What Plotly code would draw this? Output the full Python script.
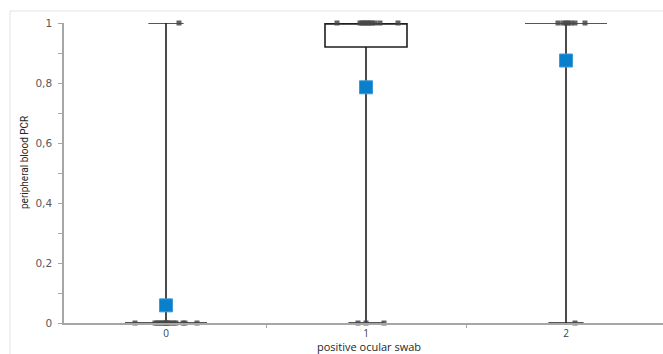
import plotly.graph_objects as go

# ---- data ----
categories = ["0", "1", "2"]
positions = [0, 1, 2]

# box statistics
q1 = [0.0, 0.92, 1.0]
median = [0.0, 1.0, 1.0]
q3 = [0.0, 1.0, 1.0]
lowerfence = [0.0, 0.0, 0.0]
upperfence = [1.0, 1.0, 1.0]

# individual observations per group
values_g0 = [0] * 16 + [1]
values_g1 = [0] * 3 + [1] * 11
values_g2 = [0] * 1 + [1] * 7
groups = [values_g0, values_g1, values_g2]

# horizontal spread of the points (jitter, in category units)
jitter_g0 = [-0.155, -0.055, -0.045, -0.035, -0.025, -0.015, -0.005, 0.0,
             0.005, 0.015, 0.025, 0.04, 0.05, 0.085, 0.095, 0.155, 0.065]
jitter_g1 = [-0.04, 0.0, 0.09,
             -0.145, -0.03, -0.02, -0.01, 0.0, 0.01, 0.02, 0.03, 0.045, 0.07, 0.16]
jitter_g2 = [0.045,
             -0.04, -0.015, 0.0, 0.01, 0.025, 0.045, 0.095]
jitters = [jitter_g0, jitter_g1, jitter_g2]

ytick_vals = [0, 0.2, 0.4, 0.6, 0.8, 1.0]
ytick_text = ["0", "0,2", "0,4", "0,6", "0,8", "1"]

x_title = "positive ocular swab"
y_title = "peripheral blood PCR"

# ---- figure ----
W, H = 663, 354
L, R, T, B = 64, 0, 23, 31

fig = go.Figure()

fig.add_trace(go.Box(
    x=positions, q1=q1, median=median, q3=q3,
    lowerfence=lowerfence, upperfence=upperfence,
    width=0.41, whiskerwidth=0.43,
    fillcolor="rgba(255,255,255,0)",
    line=dict(color="#1f1f1f", width=1.6),
    boxpoints=False, hoverinfo="skip", showlegend=False,
))

px_, py_ = [], []
for p, vals, jit in zip(positions, groups, jitters):
    for v, j in zip(vals, jit):
        px_.append(p + j)
        py_.append(v)

fig.add_trace(go.Scatter(
    x=px_, y=py_, mode="markers",
    marker=dict(symbol="square", size=5, color="rgba(70,70,70,0.85)",
                line=dict(width=0)),
    cliponaxis=False, showlegend=False, hoverinfo="skip",
))

means = [sum(v) / len(v) for v in groups]
fig.add_trace(go.Scatter(
    x=positions, y=means, mode="markers",
    marker=dict(symbol="square", size=13, color="#0a7fcc",
                line=dict(width=1, color="#3d9ad8")),
    cliponaxis=False, showlegend=False, hoverinfo="skip",
))

fig.update_layout(
    width=W, height=H,
    margin=dict(l=L, r=R, t=T, b=B, pad=0),
    paper_bgcolor="white", plot_bgcolor="white",
    separators=",.",
    font=dict(family="DejaVu Sans", size=10, color="#595959"),
    xaxis=dict(
        range=[-0.51, 2.485], showgrid=False, zeroline=False,
        showline=True, linecolor="#a6a6a6", linewidth=1.5,
        tickvals=positions, ticktext=categories,
        ticks="", ticklen=0, ticklabelstandoff=0,
        tickfont=dict(family="Open Sans", size=10, color="#404040"),
        minor=dict(tickvals=[0.5, 1.5], ticks="outside", ticklen=3,
                   tickcolor="#a6a6a6", tickwidth=1),
    ),
    yaxis=dict(
        range=[0, 1], showgrid=False, zeroline=False,
        showline=True, linecolor="#a6a6a6", linewidth=1.5,
        tickvals=ytick_vals, ticktext=ytick_text,
        ticks="outside", ticklen=4, tickcolor="#a6a6a6", tickwidth=1,
        tickfont=dict(family="DejaVu Sans", size=10.5, color="#595959"),
        ticklabelstandoff=4,
        minor=dict(tickvals=[0.1, 0.3, 0.5, 0.7, 0.9], ticks="outside",
                   ticklen=4, tickcolor="#a6a6a6", tickwidth=1),
    ),
    shapes=[
        dict(type="line", xref="paper", yref="paper",
             x0=(10 - L) / (W - L - R), x1=1.0,
             y0=(H - B - 11) / (H - T - B), y1=(H - B - 11) / (H - T - B),
             line=dict(color="#e3e3e3", width=1)),
        dict(type="line", xref="paper", yref="paper",
             x0=(10 - L) / (W - L - R), x1=(10 - L) / (W - L - R),
             y0=(H - B - 11) / (H - T - B), y1=-B / (H - T - B),
             line=dict(color="#e3e3e3", width=1)),
    ],
    annotations=[
        dict(text=x_title, xref="paper", yref="paper",
             x=(369 - L) / (W - L - R), y=(H - B - 346.5) / (H - T - B),
             showarrow=False, xanchor="center", yanchor="middle",
             font=dict(family="Open Sans", size=11, color="#262626")),
        dict(text=y_title, xref="paper", yref="paper", textangle=-90,
             x=(24 - L) / (W - L - R), y=(H - B - 163) / (H - T - B),
             showarrow=False, xanchor="center", yanchor="middle",
             font=dict(family="Roboto", size=10, color="#262626")),
    ],
)

fig.write_html("out.html")
